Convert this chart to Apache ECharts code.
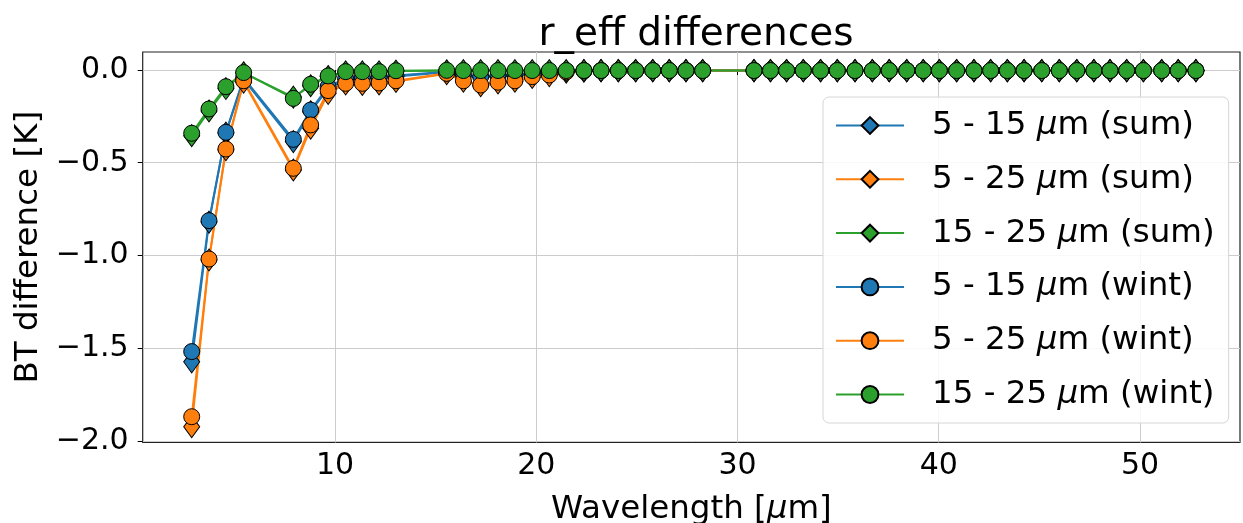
<!DOCTYPE html>
<html><head><meta charset="utf-8">
<script src="https://cdn.jsdelivr.net/npm/echarts@6/dist/echarts.min.js"></script>
<style>html,body{margin:0;padding:0;background:#fff}#c{width:1243px;height:523px}</style>
</head><body><div id="c"></div>
<script>
// Wavelengths [μm]
const wavelengths = [2.88, 3.74, 4.58, 5.46, 7.93, 8.79, 9.66, 10.53, 11.36, 12.19, 13.03,
  15.55, 16.38, 17.24, 18.10, 18.94, 19.80, 20.65, 21.49, 22.37, 23.22, 24.08, 24.94, 25.79,
  26.61, 27.44, 28.27, 30.82, 31.64, 32.44, 33.27, 34.13, 34.96, 35.84, 36.70, 37.54, 38.41,
  39.23, 40.03, 40.89, 41.75, 42.58, 43.41, 44.24, 45.12, 45.99, 46.86, 47.71, 48.51, 49.34,
  50.17, 51.08, 51.90, 52.78];

const tail = n => Array(n).fill(-0.003);

const sum_5_15 = [-1.573, -0.820, -0.340, -0.050, -0.386, -0.225, -0.100, -0.050, -0.045, -0.045, -0.035,
  -0.012, -0.030, -0.040, -0.035, -0.030, -0.020, -0.012, -0.006].concat(tail(35));
const sum_5_25 = [-1.923, -1.024, -0.430, -0.065, -0.539, -0.314, -0.126, -0.075, -0.078, -0.075, -0.062,
  -0.020, -0.060, -0.085, -0.070, -0.060, -0.040, -0.030, -0.012, -0.006].concat(tail(34));
const sum_15_25 = [-0.354, -0.221, -0.100, -0.015, -0.146, -0.085, -0.035, -0.010, -0.010, -0.010, -0.006,
  -0.004].concat(tail(42));
const wint_5_15 = [-1.518, -0.812, -0.336, -0.043, -0.374, -0.216, -0.090, -0.045, -0.040, -0.040, -0.030,
  -0.010, -0.025, -0.035, -0.030, -0.025, -0.015, -0.010, -0.005].concat(tail(35));
const wint_5_25 = [-1.869, -1.019, -0.426, -0.058, -0.530, -0.296, -0.111, -0.072, -0.072, -0.070, -0.058,
  -0.018, -0.058, -0.081, -0.066, -0.058, -0.036, -0.027, -0.010, -0.005].concat(tail(34));
const wint_15_25 = [-0.341, -0.210, -0.090, -0.014, -0.153, -0.077, -0.032, -0.009, -0.009, -0.009, -0.004,
  -0.002].concat(tail(42));

const seriesNames = ['5 - 15 μm (sum)', '5 - 25 μm (sum)', '15 - 25 μm (sum)',
  '5 - 15 μm (wint)', '5 - 25 μm (wint)', '15 - 25 μm (wint)'];
const seriesValues = [sum_5_15, sum_5_25, sum_15_25, wint_5_15, wint_5_25, wint_15_25];
const seriesColors = ['#1f77b4', '#ff7f0e', '#2ca02c', '#1f77b4', '#ff7f0e', '#2ca02c'];
const seriesSymbols = ['diamond', 'diamond', 'diamond', 'circle', 'circle', 'circle'];

const xTicks = [10, 20, 30, 40, 50];
const yTicks = [-2.0, -1.5, -1.0, -0.5, 0.0];

const FONT = 'DejaVu Sans';
const chart = echarts.init(document.getElementById('c'), null, {renderer: 'canvas'});

const series = seriesNames.map((name, k) => ({
  name: name,
  type: 'line',
  data: wavelengths.map((x, i) => [x, seriesValues[k][i]]),
  symbol: seriesSymbols[k],
  symbolSize: seriesSymbols[k] === 'diamond' ? [16, 22] : 16,
  showSymbol: true,
  showAllSymbol: true,
  lineStyle: {color: seriesColors[k], width: 2},
  itemStyle: {color: seriesColors[k], borderColor: '#000', borderWidth: 1},
  emphasis: {disabled: true},
  z: 2
}));

const muFmt = s => s.replace('μ', '{mu|μ}');
const TXT = 32.5;

chart.setOption({
  animation: false,
  backgroundColor: '#fff',
  title: {
    text: 'r_eff differences',
    left: 691, top: 10, textAlign: 'center',
    textStyle: {fontFamily: FONT, fontSize: 39, fontWeight: 'normal', color: '#000'}
  },
  grid: {left: 142.7, top: 52, right: 3, bottom: 80.5, show: true, containLabel: false,
    outerBoundsMode: 'none',
    borderColor: '#222', borderWidth: 1.2, backgroundColor: 'transparent'},
  legend: {
    data: seriesNames,
    orient: 'vertical',
    left: 823, top: 97,
    padding: [12, 14, 12, 12],
    itemWidth: 68, itemHeight: 21, itemGap: 20.8,
    backgroundColor: 'rgba(255,255,255,0.85)',
    borderColor: '#d6d6d6', borderWidth: 1, borderRadius: 6,
    formatter: muFmt,
    textStyle: {fontFamily: FONT, fontSize: TXT, color: '#000', padding: [0, 0, 0, 23],
      rich: {mu: {fontFamily: FONT, fontSize: TXT, fontStyle: 'italic', color: '#000'}}},
    selectedMode: false
  },
  xAxis: {
    type: 'value', min: 0.445, max: 54.97,
    name: 'Wavelength [{mu|μ}m]', nameLocation: 'middle', nameGap: 51,
    nameTextStyle: {fontFamily: FONT, fontSize: TXT, color: '#000',
      rich: {mu: {fontFamily: FONT, fontSize: TXT, fontStyle: 'italic', color: '#000'}}},
    axisLine: {show: false},
    axisTick: {show: true, length: 5, customValues: xTicks, lineStyle: {color: '#000', width: 1}},
    axisLabel: {customValues: xTicks, margin: 9, fontFamily: FONT, fontSize: 30, color: '#000',
      formatter: v => String(Math.round(v))},
    splitLine: {show: true, customValues: xTicks, lineStyle: {color: '#cccccc', width: 1}}
  },
  yAxis: {
    type: 'value', min: -2.008, max: 0.097,
    name: 'BT difference [K]', nameLocation: 'middle', nameGap: 97, nameRotate: 90,
    nameTextStyle: {fontFamily: FONT, fontSize: TXT, color: '#000'},
    axisLine: {show: false},
    axisTick: {show: true, length: 5, customValues: yTicks, lineStyle: {color: '#000', width: 1}},
    axisLabel: {customValues: yTicks, margin: 14, fontFamily: FONT, fontSize: 30, color: '#000',
      formatter: v => (v < 0 ? '\u2212' : '') + Math.abs(v).toFixed(1)},
    splitLine: {show: true, customValues: yTicks, lineStyle: {color: '#cccccc', width: 1}}
  },
  series: series
});
</script>
</body></html>
